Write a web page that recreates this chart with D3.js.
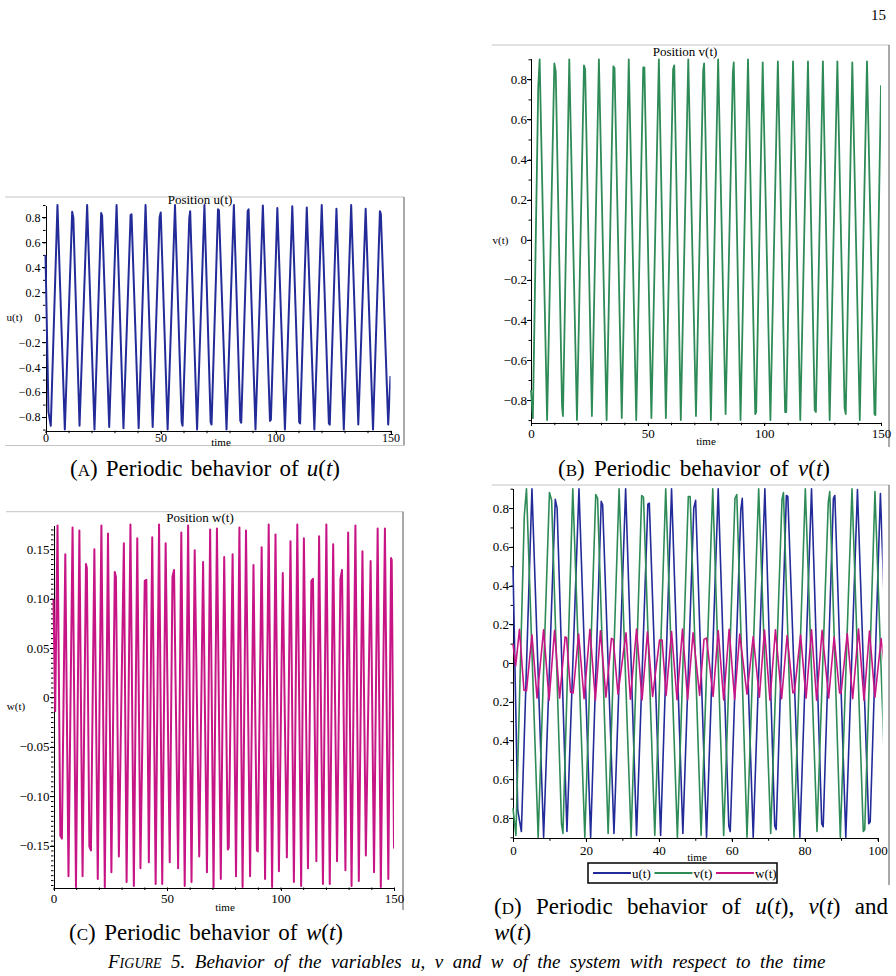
<!DOCTYPE html>
<html>
<head>
<meta charset="utf-8">
<script src="https://cdn.jsdelivr.net/npm/d3@7"></script>
<style>
  body { margin: 0; background: #fff; }
  svg { display: block; }
</style>
</head>
<body>
<svg id="fig" width="896" height="976"></svg>
<script>
// values: time and value at each drawn vertex
var uTime = [0,1.3,2.3,5.2,8.4,11.6,12.1,14.8,18.1,21.3,24.2,24.6,27.7,30.9,33.9,37.0,37.4,40.5,43.5,46.6,49.6,50.1,53.1,56.3,59.2,59.6,62.5,62.9,65.9,69.1,71.8,72.2,75.0,75.4,78.7,81.9,84.7,85.1,87.9,88.3,91.3,94.5,97.6,98.0,100.8,104.1,107.3,110.3,110.7,113.6,116.9,120.1,123.2,123.6,126.5,129.7,132.9,136.0,139.2,142.4,145.4,145.8,149.0,150];
var uValue = [0.50,-0.76,-0.87,0.90,-0.90,0.845,0.80,-0.87,0.90,-0.90,0.835,0.815,-0.88,0.90,-0.89,0.82,0.825,-0.89,0.90,-0.88,0.80,0.84,-0.90,0.90,-0.84,-0.87,0.79,0.85,-0.90,0.90,-0.84,-0.86,0.865,0.86,-0.90,0.90,-0.83,-0.845,0.85,0.865,-0.90,0.895,-0.83,-0.82,0.875,-0.90,0.89,-0.84,-0.85,0.88,-0.90,0.90,-0.85,-0.86,0.87,-0.90,0.90,-0.86,0.87,-0.90,0.85,0.83,-0.86,-0.47];

var vTime = [0,0.8,3.1,3.7,6.9,10.0,10.6,13.3,13.7,16.4,19.7,22.7,23.2,26.1,29.1,32.4,35.3,35.8,38.9,41.9,45.1,48.1,48.6,51.6,54.8,57.8,60.9,61.4,64.2,67.4,70.7,73.8,74.2,77.1,80.2,83.4,86.5,86.9,89.8,93.0,96.1,96.5,99.3,102.6,105.8,108.9,109.4,112.3,115.4,118.7,121.6,122.1,125.1,128.0,131.3,134.4,134.9,137.7,140.9,144.0,147.2,147.6,150];
var vValue = [-0.75,-0.89,0.76,0.90,-0.90,0.88,0.84,-0.83,-0.88,0.90,-0.90,0.87,0.85,-0.88,0.90,-0.90,0.865,0.855,-0.89,0.90,-0.90,0.86,0.86,-0.89,0.90,-0.89,0.85,0.87,-0.90,0.90,-0.88,0.845,0.88,-0.90,0.90,-0.87,0.83,0.885,-0.90,0.90,-0.87,-0.86,0.885,-0.90,0.89,-0.86,-0.86,0.89,-0.90,0.89,-0.85,-0.86,0.89,-0.90,0.89,-0.84,-0.87,0.885,-0.90,0.89,-0.87,-0.875,0.77];

var wTime = [0,0.74,1.77,3.0,3.7,5.2,6.6,8.4,9.9,11.4,12.8,14.3,14.7,15.8,16.5,18.0,19.5,21.1,22.6,24.0,25.5,27.0,27.5,28.8,31.0,32.2,33.9,35.4,36.9,38.3,40.2,40.9,42.0,43.5,45.0,46.5,47.9,49.4,51.2,52.4,53.1,54.9,56.3,57.8,59.3,60.8,62.2,64.2,65.9,67.6,69.0,70.5,72.0,73.7,75.2,76.8,77.2,78.9,80.4,81.9,83.3,84.8,86.6,88.1,89.6,90.0,91.7,93.2,94.8,96.3,97.8,99.3,101.0,102.8,104.4,105.9,107.4,109.1,110.3,112.1,113.6,114.3,115.8,117.0,118.7,120.2,121.7,123.2,124.9,126.4,127.1,128.6,129.8,131.3,133.0,134.5,136.1,137.6,139.7,141.2,142.8,144.2,146.0,147.5,148.7,149.0,150];
var wValue = [0.099,-0.014,0.174,-0.140,-0.143,0.145,-0.181,0.172,-0.192,0.169,-0.181,0.135,0.131,-0.151,-0.155,0.150,-0.184,0.174,-0.192,0.166,-0.177,0.127,0.122,-0.161,0.156,-0.187,0.175,-0.191,0.161,-0.173,0.118,0.119,-0.167,0.162,-0.189,0.175,-0.189,0.156,-0.167,0.122,0.129,-0.173,0.167,-0.191,0.174,-0.187,0.149,-0.161,0.137,-0.177,0.170,-0.192,0.171,-0.184,0.142,-0.154,-0.152,0.145,-0.181,0.172,-0.192,0.169,-0.181,0.134,-0.155,-0.156,0.152,-0.184,0.175,-0.192,0.165,-0.176,0.126,-0.162,0.158,-0.187,0.175,-0.191,0.161,-0.173,0.118,0.120,-0.166,0.163,-0.189,0.175,-0.189,0.155,-0.166,0.120,0.129,-0.175,0.167,-0.191,0.174,-0.186,0.148,-0.160,0.138,-0.177,0.171,-0.192,0.171,-0.184,0.141,0.139,-0.153];

var seriesNames = ["u(t)", "v(t)", "w(t)"];
var seriesColors = ["#232b99", "#2e8b57", "#c71585"];

var posTicks = [-0.8, -0.6, -0.4, -0.2, 0, 0.2, 0.4, 0.6, 0.8];
var wTicks = [-0.15, -0.10, -0.05, 0, 0.05, 0.10, 0.15];
var timeTicks = [0, 50, 100, 150];
var timeTicksD = [0, 20, 40, 60, 80, 100];

var U = {time: uTime, value: uValue, color: seriesColors[0]};
var V = {time: vTime, value: vValue, color: seriesColors[1]};
var W = {time: wTime, value: wValue, color: seriesColors[2]};

var svg = d3.select("#fig");
var serif = '"Liberation Serif", "Times New Roman", serif';

var fmt1 = function(d) { return d === 0 ? "0" : d3.format(".1f")(d); };
var fmt2 = function(d) { return d === 0 ? "0" : d3.format(".2f")(d); };
var fmtAbs = function(d) { return d === 0 ? "0" : d3.format(".1f")(Math.abs(d)); };

function drawPanel(p) {
  var g = svg.append("g");

  // light frame left over from the maple export
  g.append("line")
      .attr("x1", p.frame[0]).attr("x2", p.frame[1])
      .attr("y1", p.frame[2]).attr("y2", p.frame[2])
      .attr("stroke", "#c4c4c4");
  g.append("line")
      .attr("x1", p.frame[1]).attr("x2", p.frame[1])
      .attr("y1", p.frame[2]).attr("y2", p.frame[3])
      .attr("stroke", "#555");
  if (p.bottomRule) {
    g.append("line")
        .attr("x1", p.frame[0]).attr("x2", p.frame[1])
        .attr("y1", p.bottomRule).attr("y2", p.bottomRule)
        .attr("stroke", "#c4c4c4");
  }

  var x = d3.scaleLinear().domain([0, p.xMax]).range([p.left, p.right]);
  var y = d3.scaleLinear().domain(p.yDomain).range([p.bottom, p.top]);

  // minor ticks
  g.append("g")
      .attr("transform", "translate(" + p.left + ",0)")
      .call(d3.axisLeft(y).tickValues(p.yMinor).tickFormat("").tickSize(2.5).tickSizeOuter(0))
      .select(".domain").remove();
  g.append("g")
      .attr("transform", "translate(0," + p.bottom + ")")
      .call(d3.axisBottom(x).tickValues(d3.range(0, p.xMax + 1, 10)).tickFormat("").tickSize(2.5).tickSizeOuter(0))
      .select(".domain").remove();

  var yAxis = g.append("g")
      .attr("transform", "translate(" + p.left + ",0)")
      .call(d3.axisLeft(y).tickValues(p.yTicks).tickFormat(p.yFormat)
            .tickSize(4).tickSizeOuter(0).tickPadding(p.yPad));
  var xAxis = g.append("g")
      .attr("transform", "translate(0," + p.bottom + ")")
      .call(d3.axisBottom(x).tickValues(p.xTicks)
            .tickSize(3.5).tickSizeOuter(0).tickPadding(p.xPad));
  [yAxis, xAxis].forEach(function(a) {
    a.attr("font-family", serif).attr("font-size", p.fontSize);
    a.selectAll("line, path").attr("shape-rendering", "crispEdges");
  });

  var clipId = "clip" + p.name;
  svg.append("clipPath").attr("id", clipId)
    .append("rect")
      .attr("x", x(0) - 3).attr("y", p.top - 3)
      .attr("width", x(p.tEnd) - x(0) + 3)
      .attr("height", p.bottom - p.top + 6);

  var line = d3.line()
      .x(function(d) { return x(d[0]); })
      .y(function(d) { return y(d[1]); });

  p.series.forEach(function(s) {
    g.append("path")
        .datum(d3.zip(s.time, s.value))
        .attr("clip-path", "url(#" + clipId + ")")
        .attr("fill", "none")
        .attr("stroke", s.color)
        .attr("stroke-width", p.lineWidth)
        .attr("stroke-linejoin", "round")
        .attr("d", line);
  });

  if (p.title) {
    g.append("text").attr("x", p.title[1]).attr("y", p.title[2])
        .attr("text-anchor", "middle").attr("font-family", serif).attr("font-size", 13)
        .text(p.title[0]);
  }
  if (p.yLabel) {
    g.append("text").attr("x", p.yLabel[1]).attr("y", p.yLabel[2])
        .attr("text-anchor", "middle").attr("font-family", serif).attr("font-size", 11)
        .text(p.yLabel[0]);
  }
  g.append("text").attr("x", p.xLabel[0]).attr("y", p.xLabel[1])
      .attr("text-anchor", "middle").attr("font-family", serif).attr("font-size", 11)
      .text("time");
  return g;
}

var tenths = d3.range(-9, 10).map(function(i) { return i / 10; });

// (A) u(t)
drawPanel({
  name: "A", series: [U], lineWidth: 2,
  left: 45.5, right: 390.5, top: 205, bottom: 430.7, xMax: 150, tEnd: 150,
  yDomain: [-0.909, 0.90], yTicks: posTicks, yFormat: fmt1, yMinor: tenths,
  xTicks: timeTicks, fontSize: 12, yPad: 1, xPad: -1,
  frame: [5, 404, 197, 445.5], bottomRule: 445.5,
  title: ["Position u(t)", 200, 204], yLabel: ["u(t)", 14.5, 321], xLabel: [221, 446]
});

// (B) v(t)
drawPanel({
  name: "B", series: [V], lineWidth: 1.8,
  left: 531, right: 881, top: 58.3, bottom: 422.7, xMax: 150, tEnd: 150,
  yDomain: [-0.913, 0.905], yTicks: posTicks, yFormat: fmt1, yMinor: tenths,
  xTicks: timeTicks, fontSize: 13, yPad: 0, xPad: 2.5,
  frame: [491.7, 889, 45, 447],
  title: ["Position v(t)", 685, 55.5], yLabel: ["v(t)", 500.5, 244], xLabel: [706, 444.5]
});

// (C) w(t)
drawPanel({
  name: "C", series: [W], lineWidth: 2,
  left: 53.5, right: 394, top: 525, bottom: 887.5, xMax: 150, tEnd: 150,
  yDomain: [-0.1925, 0.1745], yTicks: wTicks, yFormat: fmt2,
  yMinor: d3.range(-38, 35).map(function(i) { return i / 200; }),
  xTicks: timeTicks, fontSize: 13, yPad: 0, xPad: 3,
  frame: [6, 403, 511.7, 910],
  title: ["Position w(t)", 200, 521.5], yLabel: ["w(t)", 16, 710], xLabel: [225, 911]
});

// (D) all three, first 100 time units
var gD = drawPanel({
  name: "D", series: [U, V, W], lineWidth: 1.6,
  left: 513, right: 877.5, top: 488.3, bottom: 838.3, xMax: 100, tEnd: 101.4,
  yDomain: [-0.905, 0.902], yTicks: posTicks, yFormat: fmtAbs, yMinor: tenths,
  xTicks: timeTicksD, fontSize: 13, yPad: 0, xPad: 4,
  frame: [491.7, 889, 485, 885],
  xLabel: [697, 861]
});

// legend box of panel D
var legend = gD.append("g").attr("transform", "translate(588,863)");
legend.append("rect").attr("width", 189).attr("height", 20)
    .attr("fill", "#fff").attr("stroke", "#000").attr("stroke-width", 1.5);
var legendX = [5, 66.5, 128];
seriesNames.forEach(function(name, i) {
  legend.append("line")
      .attr("x1", legendX[i]).attr("x2", legendX[i] + 38)
      .attr("y1", 10).attr("y2", 10)
      .attr("stroke", seriesColors[i]).attr("stroke-width", 2);
  legend.append("text")
      .attr("x", legendX[i] + 39).attr("y", 14.5)
      .attr("font-family", serif).attr("font-size", 13)
      .text(name);
});

// captions
function caption(parts, x0, baseline, target, centered, size) {
  var t = svg.append("text")
      .attr("y", baseline)
      .attr("font-family", serif)
      .attr("font-size", size || 23);
  parts.forEach(function(p) {
    var s = t.append("tspan").text(p[0]);
    if (p[1] === "i") s.attr("font-style", "italic");
    if (p[1] === "sc") s.attr("font-size", Math.round((size || 23) * 0.75));
  });
  if (target) {
    var natural = t.node().getComputedTextLength();
    var gaps = parts.map(function(p) { return p[0]; }).join("").split(" ").length - 1;
    if (gaps) t.attr("word-spacing", (target - natural) / gaps);
  }
  t.attr("x", centered ? x0 - target / 2 : x0);
  return t;
}

caption([["(", ""], ["A", "sc"], [") Periodic behavior of ", ""], ["u", "i"], ["(", ""], ["t", "i"], [")", ""]], 205, 476, 270, true);
caption([["(", ""], ["B", "sc"], [") Periodic behavior of ", ""], ["v", "i"], ["(", ""], ["t", "i"], [")", ""]], 694, 476, 272, true);
caption([["(", ""], ["C", "sc"], [") Periodic behavior of ", ""], ["w", "i"], ["(", ""], ["t", "i"], [")", ""]], 206, 940, 274, true);
caption([["(", ""], ["D", "sc"], [") Periodic behavior of ", ""], ["u", "i"], ["(", ""], ["t", "i"], ["), ", ""],
         ["v", "i"], ["(", ""], ["t", "i"], [") and", ""]], 494, 914, 394, false);
caption([["w", "i"], ["(", ""], ["t", "i"], [")", ""]], 494, 940, 0, false);

// figure caption along the bottom edge
caption([["F", ""], ["IGURE", "sc"], [" 5. Behavior of the variables ", ""], ["u", "i"], [", ", ""], ["v", "i"], [" and ", ""], ["w", "i"],
         [" of the system with respect to the time", ""]], 108, 968, 720, false, 19)
    .attr("font-style", "italic");

// page number
svg.append("text").attr("x", 886).attr("y", 20).attr("text-anchor", "end")
    .attr("font-family", serif).attr("font-size", 15).text("15");
</script>
</body>
</html>
